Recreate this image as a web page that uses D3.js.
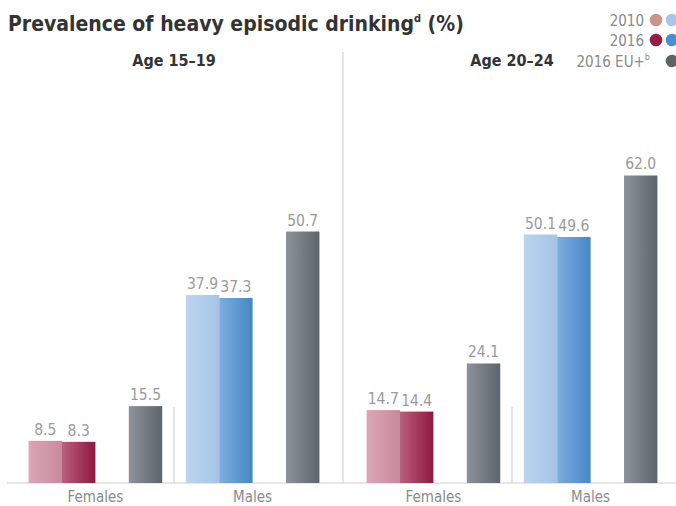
<!DOCTYPE html>
<html>
<head>
<meta charset="utf-8">
<script src="https://cdn.jsdelivr.net/npm/d3@7/dist/d3.min.js"></script>
<style>
  body { margin: 0; background: #fff; }
  text { font-family: "Liberation Sans Narrow", "DejaVu Sans Condensed", sans-serif; }
</style>
</head>
<body>
<script>
// groups and values (order: Females, Males for each age band)
const ages = ["Age 15–19", "Age 20–24"];
const sexes = ["Females", "Males"];
const v2010 = [[8.5, 37.9], [14.7, 50.1]];
const v2016 = [[8.3, 37.3], [14.4, 49.6]];
const vEU = [[15.5, 50.7], [24.1, 62.0]];
const slots = ["2010", "2016", "gap", "EU"];

const width = 676, height = 506;
const base = 483;

const svg = d3.select("body").append("svg")
  .attr("width", width).attr("height", height);

// horizontal gradients for each bar type
const grads = {
  f2010: ["#dba6b6", "#c68a9b"],
  f2016: ["#bb5f7d", "#8d1841"],
  m2010: ["#bcd4ed", "#a5c4e5"],
  m2016: ["#7eaddd", "#4686c7"],
  eu: ["#8e939b", "#5d646c"]
};
const defs = svg.append("defs");
Object.entries(grads).forEach(([id, c]) => {
  const g = defs.append("linearGradient").attr("id", id)
    .attr("x1", "0%").attr("x2", "100%").attr("y1", "0%").attr("y2", "0%");
  g.append("stop").attr("offset", "0%").attr("stop-color", c[0]);
  g.append("stop").attr("offset", "100%").attr("stop-color", c[1]);
});

const xPanel = d3.scaleBand().domain(ages).range([5, 681]);
const xSex = d3.scaleBand().domain(sexes).range([0, xPanel.bandwidth()])
  .paddingInner(0.15).paddingOuter(0.15);
const xSlot = d3.scaleBand().domain(slots).range([0, xSex.bandwidth()]);
const y = d3.scaleLinear().domain([0, 70]).range([base, base - 70 * 4.96]);

// title
const title = svg.append("text").attr("x", 8).attr("y", 31)
  .attr("fill", "#333").attr("font-size", 21).attr("font-weight", "bold")
  .text("Prevalence of heavy episodic drinking");
title.append("tspan").attr("font-size", 11).attr("dy", -9).text("d");
title.append("tspan").attr("dy", 9).text(" (%)");

// legend
const legRows = [
  { label: "2010", cols: ["#c9958a", "#a9c6ea"], y: 20 },
  { label: "2016", cols: ["#941c45", "#4a8fd0"], y: 40 },
  { label: "2016 EU+", cols: [null, "#5d636b"], y: 61, sup: "b" }
];
legRows.forEach(r => {
  const t = svg.append("text")
    .attr("x", r.sup ? 650 : 644).attr("y", r.y + 6)
    .attr("text-anchor", "end").attr("fill", "#8a8a8a").attr("font-size", 15)
    .text(r.label);
  if (r.sup) t.append("tspan").attr("font-size", 9).attr("dy", -7).text(r.sup);
  r.cols.forEach((c, i) => {
    if (!c) return;
    svg.append("circle").attr("cx", 656 + i * 16).attr("cy", r.y)
      .attr("r", 6.3).attr("fill", c);
  });
});

// baseline
svg.append("line").attr("x1", 7).attr("x2", width).attr("y1", base).attr("y2", base)
  .attr("stroke", "#cfcfcf").attr("stroke-width", 1.2);

// panel divider
svg.append("line").attr("x1", xPanel(ages[1])).attr("x2", xPanel(ages[1]))
  .attr("y1", 52).attr("y2", base).attr("stroke", "#d6d6d6").attr("stroke-width", 1.2);

ages.forEach((age, ai) => {
  const px = xPanel(age);
  const g = svg.append("g").attr("transform", `translate(${px},0)`);

  g.append("text").attr("x", xPanel.bandwidth() / 2).attr("y", 66)
    .attr("text-anchor", "middle").attr("fill", "#333")
    .attr("font-size", 16).attr("font-weight", "bold").text(age);

  // small divider between sexes
  const sepX = xSex(sexes[1]) - xSex.step() * xSex.paddingInner() / 2;
  g.append("line").attr("x1", sepX).attr("x2", sepX).attr("y1", 407).attr("y2", base)
    .attr("stroke", "#d6d6d6").attr("stroke-width", 1.2);

  sexes.forEach((sex, si) => {
    const sx = xSex(sex);
    const pre = si === 0 ? "f" : "m";
    const bars = [
      { slot: "2010", v: v2010[ai][si], fill: `url(#${pre}2010)` },
      { slot: "2016", v: v2016[ai][si], fill: `url(#${pre}2016)` },
      { slot: "EU", v: vEU[ai][si], fill: "url(#eu)" }
    ];
    const sg = g.append("g").attr("transform", `translate(${sx},0)`);
    sg.selectAll("rect").data(bars).join("rect")
      .attr("x", d => xSlot(d.slot))
      .attr("width", xSlot.bandwidth())
      .attr("y", d => y(d.v))
      .attr("height", d => base - y(d.v))
      .attr("fill", d => d.fill);
    sg.selectAll("text.val").data(bars).join("text").attr("class", "val")
      .attr("x", d => xSlot(d.slot) + xSlot.bandwidth() / 2)
      .attr("y", d => y(d.v) - 6)
      .attr("text-anchor", "middle").attr("fill", "#9a9a9a").attr("font-size", 15.5)
      .text(d => d.v.toFixed(1));
    sg.append("text").attr("x", xSex.bandwidth() / 2).attr("y", 502)
      .attr("text-anchor", "middle").attr("fill", "#8a8a8a").attr("font-size", 15)
      .text(sex);
  });
});
</script>
</body>
</html>
